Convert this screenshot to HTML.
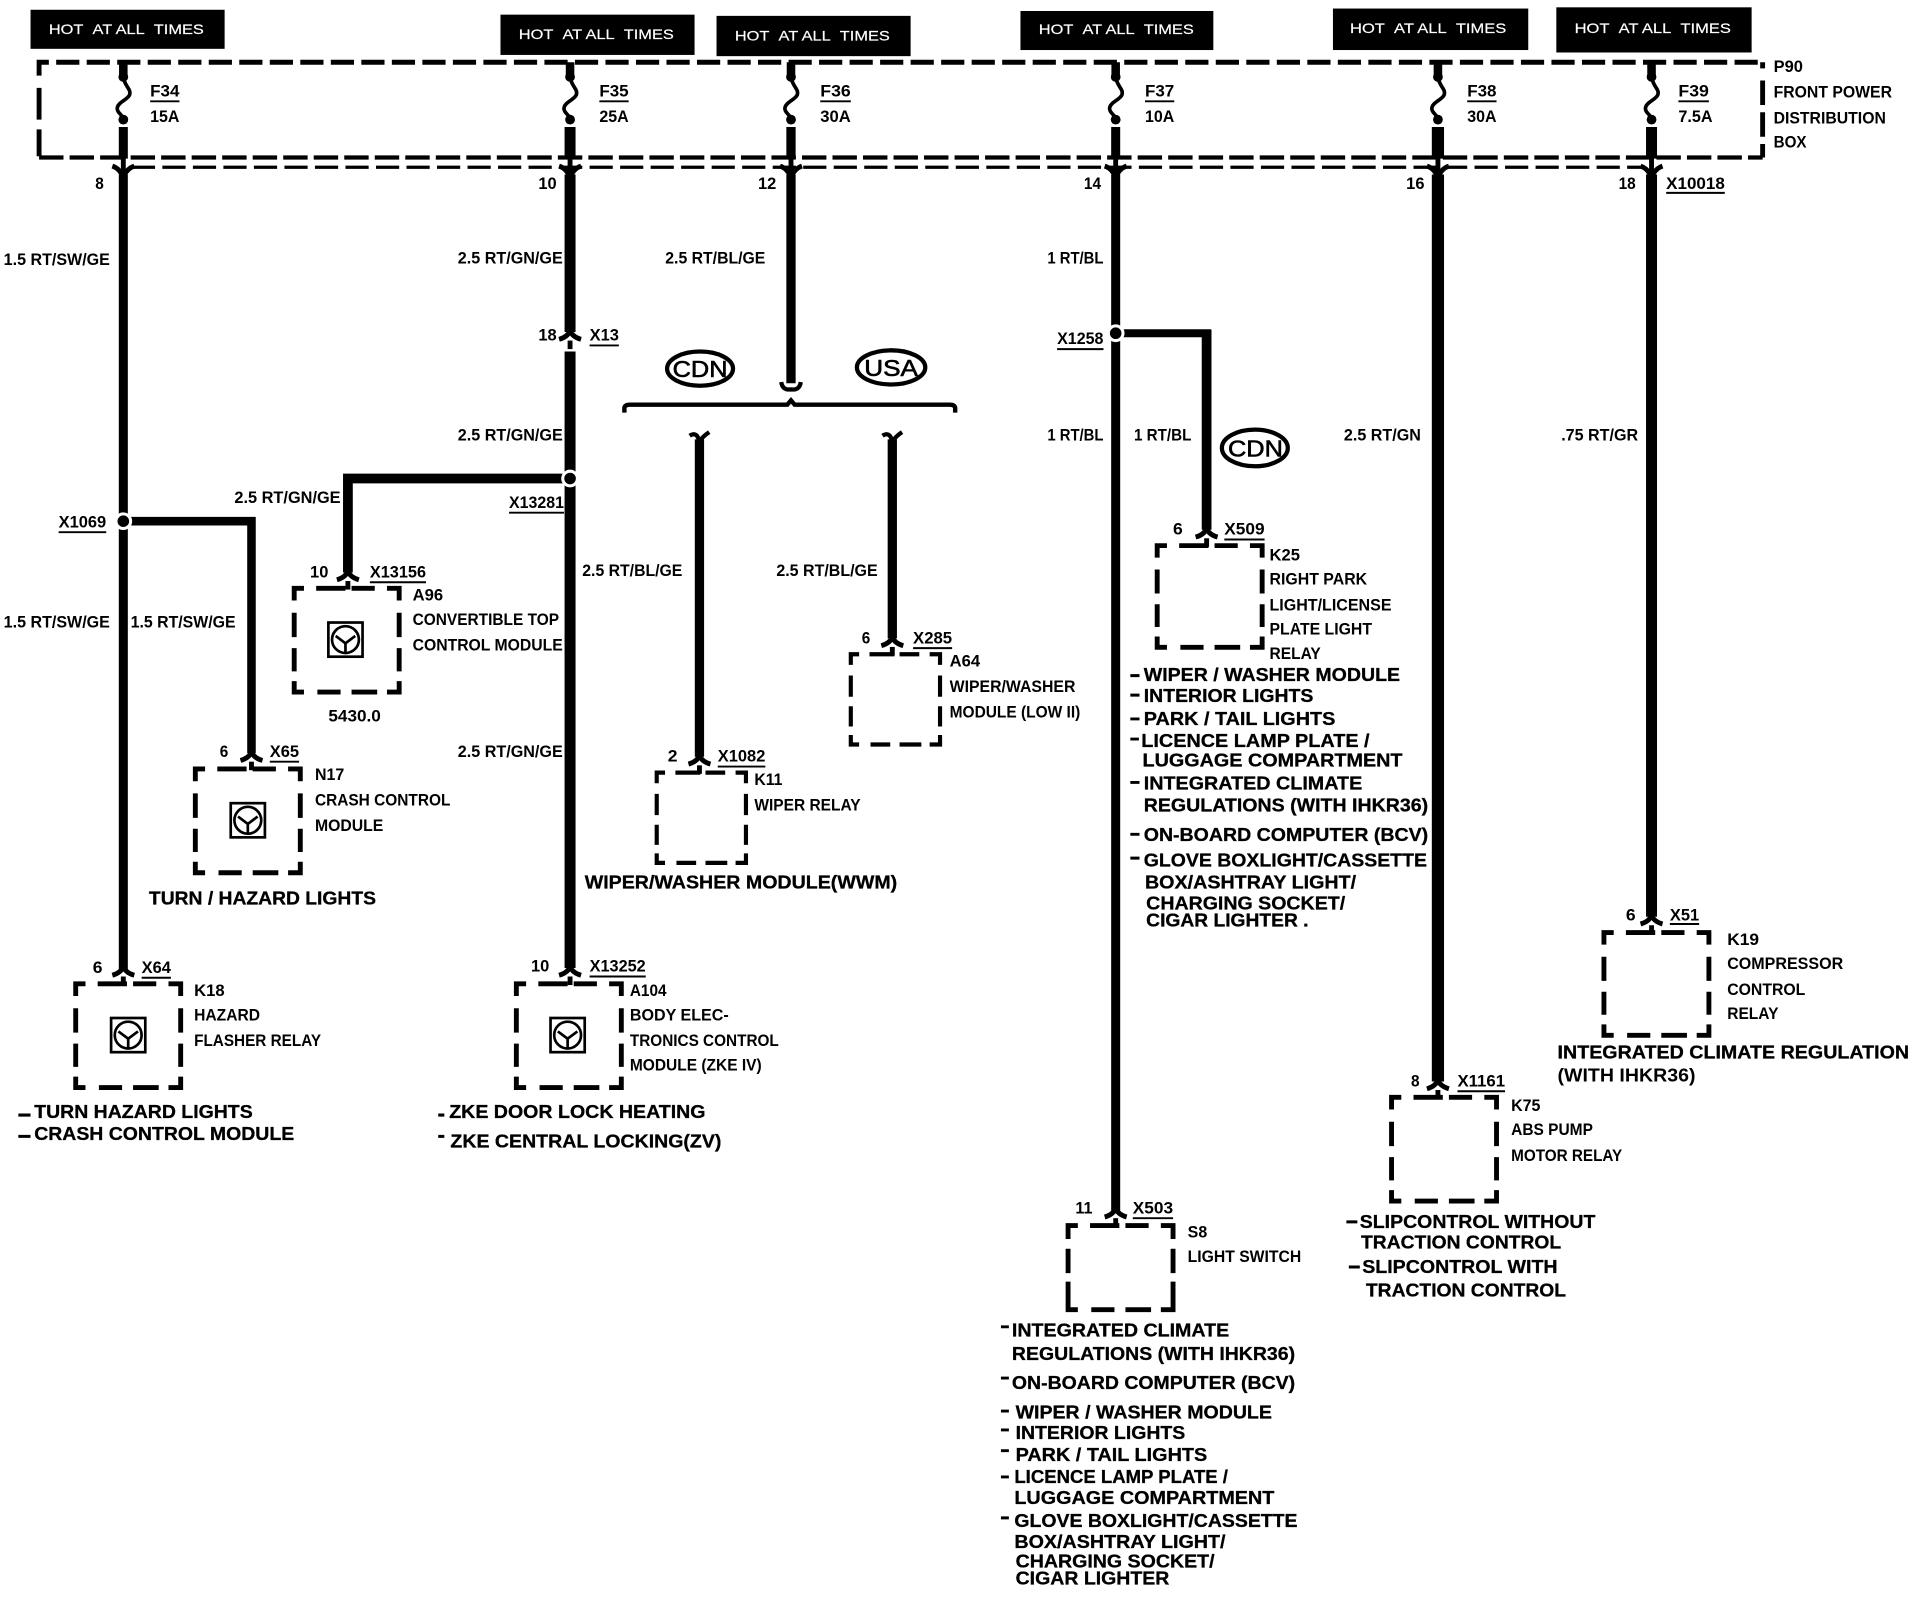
<!DOCTYPE html>
<html><head><meta charset="utf-8"><title>Power distribution wiring diagram</title>
<style>
html,body{margin:0;padding:0;background:#fff}
svg{display:block}
text{font-family:"Liberation Sans",sans-serif;font-weight:bold;fill:#000;font-size:13.5px}
.l{font-size:15.5px;stroke:#000;stroke-width:.25}
.w{fill:#fff;font-weight:normal;font-size:11.5px;stroke:#fff;stroke-width:.15}
.o{font-size:19px;font-weight:normal;stroke:#000;stroke-width:.5}
</style></head><body>
<svg xmlns="http://www.w3.org/2000/svg" width="1914" height="1600" viewBox="0 0 1568 1310.8">
<defs>
<path id="bx" d="M0,10V0H8M18,0H42M47,0H66M76,0H86V10M0,20V40M0,49V68M0,76V85H8M19,85H38M47,85H68M76,85H86V76M86,20V40M86,49V68" fill="none" stroke="#000" stroke-width="4"/>
<path id="bx2" d="M0,11V0H8M18,0H42M47,0H66M76,0H86V11M0,19V39M0,46V69H8M19,69H38M47,69H68M76,69H86V46M86,19V39" fill="none" stroke="#000" stroke-width="4"/>
<g id="arch"><path d="M-9,-7Q-2,-9 0,-14Q2,-9 9,-7" fill="none" stroke="#000" stroke-width="4"/><path d="M0,-6V1" stroke="#000" stroke-width="4"/></g>
<g id="fork"><path d="M0,-10V2" stroke="#000" stroke-width="4"/><path d="M-9,-3Q-3,-1 0,6Q3,-1 9,-3" fill="none" stroke="#000" stroke-width="4"/></g>
<g id="fuse"><path d="M0,0V12" stroke="#000" stroke-width="7"/><circle cx="0" cy="12" r="4"/><path d="M0,12C1,20 7,22 5,27C3,31 -5,33 -5,38C-5,42 0,43 0,47" fill="none" stroke="#000" stroke-width="3"/><circle cx="0" cy="47" r="4"/></g>
<g id="ic"><rect x="-14" y="-14" width="28" height="28" fill="none" stroke="#000" stroke-width="2.2"/><circle cx="0" cy="0" r="11" fill="none" stroke="#000" stroke-width="2.2"/><path d="M-8,-3L0,3L8,-3M0,3V11" fill="none" stroke="#000" stroke-width="2.2"/></g>
</defs>

<!-- HOT boxes -->
<g>
<rect x="25" y="8" width="159" height="32"/>
<rect x="410" y="12" width="159" height="33"/>
<rect x="587" y="13" width="159" height="33"/>
<rect x="836" y="9" width="158" height="32"/>
<rect x="1092" y="7" width="160" height="34"/>
<rect x="1275" y="6" width="160" height="37"/>
</g>
<text class="w" x="40" y="28" textLength="127" lengthAdjust="spacingAndGlyphs">HOT&#160;&#160;AT ALL&#160;&#160;TIMES</text>
<text class="w" x="425" y="32" textLength="127" lengthAdjust="spacingAndGlyphs">HOT&#160;&#160;AT ALL&#160;&#160;TIMES</text>
<text class="w" x="602" y="33" textLength="127" lengthAdjust="spacingAndGlyphs">HOT&#160;&#160;AT ALL&#160;&#160;TIMES</text>
<text class="w" x="851" y="28" textLength="127" lengthAdjust="spacingAndGlyphs">HOT&#160;&#160;AT ALL&#160;&#160;TIMES</text>
<text class="w" x="1106" y="27" textLength="128" lengthAdjust="spacingAndGlyphs">HOT&#160;&#160;AT ALL&#160;&#160;TIMES</text>
<text class="w" x="1290" y="27" textLength="128" lengthAdjust="spacingAndGlyphs">HOT&#160;&#160;AT ALL&#160;&#160;TIMES</text>

<!-- Distribution box -->
<path d="M32,62V51H40" fill="none" stroke="#000" stroke-width="4"/>
<path d="M46,51H1444" fill="none" stroke="#000" stroke-width="4" stroke-dasharray="19 6"/>
<path d="M32,72V98M32,106V128" fill="none" stroke="#000" stroke-width="4"/>
<path d="M1444,51V56M1444,66V86M1444,92V112M1444,118V129" fill="none" stroke="#000" stroke-width="4"/>
<path d="M32,129H1444" fill="none" stroke="#000" stroke-width="3.5" stroke-dasharray="20 5"/>
<path d="M108,137H1345" fill="none" stroke="#000" stroke-width="2.6" stroke-dasharray="19 6"/>

<!-- Fuses -->
<use href="#fuse" x="101" y="51"/><use href="#fuse" x="467" y="51"/><use href="#fuse" x="648" y="51"/>
<use href="#fuse" x="914" y="51"/><use href="#fuse" x="1178" y="51"/><use href="#fuse" x="1353" y="51"/>

<!-- Wires -->
<g fill="none" stroke="#000">
<path d="M101,104V130M101,143V795" stroke-width="7.4"/>
<path d="M467,104V130M467,143V272M467,288V793" stroke-width="9"/>
<path d="M648,104V130M648,143V314" stroke-width="7.6"/>
<path d="M914,104V130M914,143V992" stroke-width="7.4"/>
<path d="M1178,104V130M1178,143V886" stroke-width="10"/>
<path d="M1353,104V130M1353,143V751" stroke-width="9"/>
<path d="M101,427H206V617" stroke-width="7"/>
<path d="M467,392H285V469" stroke-width="8"/>
<path d="M914,273H992" stroke-width="6.5"/>
<path d="M988.5,270V434" stroke-width="8"/>
<path d="M573,360V620M731,360V523" stroke-width="7.6"/>
<path d="M511.5,338V334Q512,331.5 516,331.5H645L648,328L651,331.5H778Q782,331.5 782.5,334V338" stroke-width="3.6"/>
<path d="M640,313Q641,320 648,319Q655,320 656,313" stroke-width="3.5"/>
<path d="M565,357Q571,353 573,362Q575,358 581,354M723,357Q729,353 731,362Q733,358 739,354" stroke-width="3.5"/>
</g>
<circle cx="101" cy="427" r="6" stroke="#fff" stroke-width="2.5"/>
<circle cx="467" cy="392" r="6" stroke="#fff" stroke-width="2.5"/>
<circle cx="914" cy="273" r="6" stroke="#fff" stroke-width="2.5"/>

<use href="#fork" x="101" y="139"/><use href="#fork" x="467" y="139"/><use href="#fork" x="648" y="139"/>
<use href="#fork" x="914" y="139"/><use href="#fork" x="1178" y="139"/><use href="#fork" x="1353" y="139"/>

<use href="#arch" x="467" y="285"/>
<use href="#arch" x="101" y="806"/><use href="#arch" x="206" y="630"/><use href="#arch" x="285" y="482"/>
<use href="#arch" x="467" y="806"/><use href="#arch" x="573" y="633"/><use href="#arch" x="731" y="536"/>
<use href="#arch" x="988.5" y="447"/><use href="#arch" x="1353" y="764"/><use href="#arch" x="1178" y="899"/><use href="#arch" x="914" y="1004"/>

<!-- Component boxes -->
<use href="#bx" transform="translate(62,806)"/>
<use href="#bx" transform="translate(423,806)"/>
<use href="#bx" transform="translate(160,630)"/>
<use href="#bx" transform="translate(241,482)"/>
<use href="#bx" transform="translate(538,633) scale(.85,.87)"/>
<use href="#bx" transform="translate(697,536) scale(.85,.87)"/>
<use href="#bx" transform="translate(948,447) scale(1,.98)"/>
<use href="#bx" transform="translate(1314,764) scale(1,.99)"/>
<use href="#bx" transform="translate(1140,899)"/>
<use href="#bx2" transform="translate(875,1004)"/>

<use href="#ic" x="283" y="524"/><use href="#ic" x="203" y="672"/><use href="#ic" x="105" y="848"/><use href="#ic" x="465" y="848"/>

<!-- Ovals -->
<g fill="none" stroke="#000" stroke-width="3.5">
<ellipse cx="573.5" cy="302" rx="27" ry="14"/><ellipse cx="730" cy="301" rx="28" ry="14"/><ellipse cx="1028" cy="367" rx="27" ry="15"/>
</g>
<text class="o" x="551" y="309" textLength="45" lengthAdjust="spacingAndGlyphs">CDN</text>
<text class="o" x="708" y="308" textLength="44" lengthAdjust="spacingAndGlyphs">USA</text>
<text class="o" x="1006" y="374" textLength="45" lengthAdjust="spacingAndGlyphs">CDN</text>

<!-- Underlines -->
<path stroke="#000" stroke-width="1.6" fill="none" d="M123,83H147M491,83H515M672,83H697M938,83H962M1202,83H1226M1375,83H1400M1365,158H1413M483,283H507M866,286H904M48,436H87M417,420H462M303,477H349M221,624H245M588,628H627M748,531H780M1003,442H1036M1368,757H1392M1194,894H1233M928,998H961M116,801H140M483,800H529"/>

<!-- Fuse labels -->
<text x="123" y="79" textLength="24" lengthAdjust="spacingAndGlyphs">F34</text><text x="123" y="100" textLength="24" lengthAdjust="spacingAndGlyphs">15A</text>
<text x="491" y="79" textLength="24" lengthAdjust="spacingAndGlyphs">F35</text><text x="491" y="100" textLength="24" lengthAdjust="spacingAndGlyphs">25A</text>
<text x="672" y="79" textLength="25" lengthAdjust="spacingAndGlyphs">F36</text><text x="672" y="100" textLength="25" lengthAdjust="spacingAndGlyphs">30A</text>
<text x="938" y="79" textLength="24" lengthAdjust="spacingAndGlyphs">F37</text><text x="938" y="100" textLength="24" lengthAdjust="spacingAndGlyphs">10A</text>
<text x="1202" y="79" textLength="24" lengthAdjust="spacingAndGlyphs">F38</text><text x="1202" y="100" textLength="24" lengthAdjust="spacingAndGlyphs">30A</text>
<text x="1375" y="79" textLength="25" lengthAdjust="spacingAndGlyphs">F39</text><text x="1375" y="100" textLength="28" lengthAdjust="spacingAndGlyphs">7.5A</text>
<text x="1453" y="59" textLength="24" lengthAdjust="spacingAndGlyphs">P90</text>
<text x="1453" y="80" textLength="97" lengthAdjust="spacingAndGlyphs">FRONT POWER</text>
<text x="1453" y="101" textLength="92" lengthAdjust="spacingAndGlyphs">DISTRIBUTION</text>
<text x="1453" y="121" textLength="27" lengthAdjust="spacingAndGlyphs">BOX</text>

<!-- Pins -->
<text x="78" y="155" textLength="7" lengthAdjust="spacingAndGlyphs">8</text>
<text x="441" y="155" textLength="15" lengthAdjust="spacingAndGlyphs">10</text>
<text x="621" y="155" textLength="15" lengthAdjust="spacingAndGlyphs">12</text>
<text x="888" y="155" textLength="14" lengthAdjust="spacingAndGlyphs">14</text>
<text x="1152" y="155" textLength="15" lengthAdjust="spacingAndGlyphs">16</text>
<text x="1326" y="155" textLength="14" lengthAdjust="spacingAndGlyphs">18</text>
<text x="1365" y="155" textLength="48" lengthAdjust="spacingAndGlyphs">X10018</text>

<!-- Wire labels -->
<text x="3" y="217" textLength="87" lengthAdjust="spacingAndGlyphs">1.5 RT/SW/GE</text>
<text x="375" y="216" textLength="86" lengthAdjust="spacingAndGlyphs">2.5 RT/GN/GE</text>
<text x="545" y="216" textLength="82" lengthAdjust="spacingAndGlyphs">2.5 RT/BL/GE</text>
<text x="858" y="216" textLength="46" lengthAdjust="spacingAndGlyphs">1 RT/BL</text>
<text x="441" y="279" textLength="15" lengthAdjust="spacingAndGlyphs">18</text>
<text x="483" y="279" textLength="24" lengthAdjust="spacingAndGlyphs">X13</text>
<text x="866" y="282" textLength="38" lengthAdjust="spacingAndGlyphs">X1258</text>
<text x="375" y="361" textLength="86" lengthAdjust="spacingAndGlyphs">2.5 RT/GN/GE</text>
<text x="858" y="361" textLength="46" lengthAdjust="spacingAndGlyphs">1 RT/BL</text>
<text x="929" y="361" textLength="47" lengthAdjust="spacingAndGlyphs">1 RT/BL</text>
<text x="1101" y="361" textLength="63" lengthAdjust="spacingAndGlyphs">2.5 RT/GN</text>
<text x="1279" y="361" textLength="63" lengthAdjust="spacingAndGlyphs">.75 RT/GR</text>
<text x="192" y="412" textLength="87" lengthAdjust="spacingAndGlyphs">2.5 RT/GN/GE</text>
<text x="417" y="416" textLength="45" lengthAdjust="spacingAndGlyphs">X13281</text>
<text x="48" y="432" textLength="39" lengthAdjust="spacingAndGlyphs">X1069</text>
<text x="3" y="514" textLength="87" lengthAdjust="spacingAndGlyphs">1.5 RT/SW/GE</text>
<text x="107" y="514" textLength="86" lengthAdjust="spacingAndGlyphs">1.5 RT/SW/GE</text>
<text x="477" y="472" textLength="82" lengthAdjust="spacingAndGlyphs">2.5 RT/BL/GE</text>
<text x="636" y="472" textLength="83" lengthAdjust="spacingAndGlyphs">2.5 RT/BL/GE</text>
<text x="375" y="620" textLength="86" lengthAdjust="spacingAndGlyphs">2.5 RT/GN/GE</text>

<!-- A96 -->
<text x="254" y="473" textLength="15" lengthAdjust="spacingAndGlyphs">10</text>
<text x="303" y="473" textLength="46" lengthAdjust="spacingAndGlyphs">X13156</text>
<text x="338" y="492" textLength="25" lengthAdjust="spacingAndGlyphs">A96</text>
<text x="338" y="512" textLength="120" lengthAdjust="spacingAndGlyphs">CONVERTIBLE TOP</text>
<text x="338" y="533" textLength="123" lengthAdjust="spacingAndGlyphs">CONTROL MODULE</text>
<text x="269" y="591" textLength="43" lengthAdjust="spacingAndGlyphs">5430.0</text>

<!-- N17 -->
<text x="180" y="620" textLength="7" lengthAdjust="spacingAndGlyphs">6</text>
<text x="221" y="620" textLength="24" lengthAdjust="spacingAndGlyphs">X65</text>
<text x="258" y="639" textLength="24" lengthAdjust="spacingAndGlyphs">N17</text>
<text x="258" y="660" textLength="111" lengthAdjust="spacingAndGlyphs">CRASH CONTROL</text>
<text x="258" y="681" textLength="56" lengthAdjust="spacingAndGlyphs">MODULE</text>
<text class="l" x="122" y="741" textLength="186" lengthAdjust="spacingAndGlyphs">TURN / HAZARD LIGHTS</text>

<!-- K11 -->
<text x="547" y="624" textLength="8" lengthAdjust="spacingAndGlyphs">2</text>
<text x="588" y="624" textLength="39" lengthAdjust="spacingAndGlyphs">X1082</text>
<text x="618" y="643" textLength="23" lengthAdjust="spacingAndGlyphs">K11</text>
<text x="618" y="664" textLength="87" lengthAdjust="spacingAndGlyphs">WIPER RELAY</text>
<text class="l" x="479" y="728" textLength="256" lengthAdjust="spacingAndGlyphs">WIPER/WASHER MODULE(WWM)</text>

<!-- A64 -->
<text x="706" y="527" textLength="7" lengthAdjust="spacingAndGlyphs">6</text>
<text x="748" y="527" textLength="32" lengthAdjust="spacingAndGlyphs">X285</text>
<text x="778" y="546" textLength="25" lengthAdjust="spacingAndGlyphs">A64</text>
<text x="778" y="567" textLength="103" lengthAdjust="spacingAndGlyphs">WIPER/WASHER</text>
<text x="778" y="588" textLength="107" lengthAdjust="spacingAndGlyphs">MODULE (LOW II)</text>

<!-- K25 -->
<text x="961" y="438" textLength="8" lengthAdjust="spacingAndGlyphs">6</text>
<text x="1003" y="438" textLength="33" lengthAdjust="spacingAndGlyphs">X509</text>
<text x="1040" y="459" textLength="25" lengthAdjust="spacingAndGlyphs">K25</text>
<text x="1040" y="479" textLength="80" lengthAdjust="spacingAndGlyphs">RIGHT PARK</text>
<text x="1040" y="500" textLength="100" lengthAdjust="spacingAndGlyphs">LIGHT/LICENSE</text>
<text x="1040" y="520" textLength="84" lengthAdjust="spacingAndGlyphs">PLATE LIGHT</text>
<text x="1040" y="540" textLength="42" lengthAdjust="spacingAndGlyphs">RELAY</text>

<!-- K25 list -->
<path stroke="#000" stroke-width="2.4" fill="none" d="M926,553.5H933.5M926,569.5H933.5M926,589H933.5M926,605.5H933M926,641H933.5M926,683.5H933.5M926,703H933.5"/>
<text class="l" x="937" y="558" textLength="210" lengthAdjust="spacingAndGlyphs">WIPER / WASHER MODULE</text>
<text class="l" x="937" y="575" textLength="139" lengthAdjust="spacingAndGlyphs">INTERIOR LIGHTS</text>
<text class="l" x="937" y="594" textLength="157" lengthAdjust="spacingAndGlyphs">PARK / TAIL LIGHTS</text>
<text class="l" x="935" y="612" textLength="187" lengthAdjust="spacingAndGlyphs">LICENCE LAMP PLATE /</text>
<text class="l" x="936" y="628" textLength="213" lengthAdjust="spacingAndGlyphs">LUGGAGE COMPARTMENT</text>
<text class="l" x="937" y="647" textLength="179" lengthAdjust="spacingAndGlyphs">INTEGRATED CLIMATE</text>
<text class="l" x="937" y="665" textLength="233" lengthAdjust="spacingAndGlyphs">REGULATIONS (WITH IHKR36)</text>
<text class="l" x="937" y="689" textLength="233" lengthAdjust="spacingAndGlyphs">ON-BOARD COMPUTER (BCV)</text>
<text class="l" x="937" y="710" textLength="232" lengthAdjust="spacingAndGlyphs">GLOVE BOXLIGHT/CASSETTE</text>
<text class="l" x="938" y="728" textLength="173" lengthAdjust="spacingAndGlyphs">BOX/ASHTRAY LIGHT/</text>
<text class="l" x="939" y="745" textLength="163" lengthAdjust="spacingAndGlyphs">CHARGING SOCKET/</text>
<text class="l" x="939" y="759" textLength="133" lengthAdjust="spacingAndGlyphs">CIGAR LIGHTER .</text>

<!-- K19 -->
<text x="1332" y="754" textLength="8" lengthAdjust="spacingAndGlyphs">6</text>
<text x="1368" y="754" textLength="24" lengthAdjust="spacingAndGlyphs">X51</text>
<text x="1415" y="774" textLength="26" lengthAdjust="spacingAndGlyphs">K19</text>
<text x="1415" y="794" textLength="95" lengthAdjust="spacingAndGlyphs">COMPRESSOR</text>
<text x="1415" y="815" textLength="64" lengthAdjust="spacingAndGlyphs">CONTROL</text>
<text x="1415" y="835" textLength="42" lengthAdjust="spacingAndGlyphs">RELAY</text>
<text class="l" x="1276" y="867" textLength="288" lengthAdjust="spacingAndGlyphs">INTEGRATED CLIMATE REGULATION</text>
<text x="1276" y="886" textLength="113" lengthAdjust="spacingAndGlyphs" style="font-size:15px">(WITH IHKR36)</text>

<!-- K75 -->
<text x="1156" y="890" textLength="7" lengthAdjust="spacingAndGlyphs">8</text>
<text x="1194" y="890" textLength="39" lengthAdjust="spacingAndGlyphs">X1161</text>
<text x="1238" y="910" textLength="24" lengthAdjust="spacingAndGlyphs">K75</text>
<text x="1238" y="930" textLength="67" lengthAdjust="spacingAndGlyphs">ABS PUMP</text>
<text x="1238" y="951" textLength="91" lengthAdjust="spacingAndGlyphs">MOTOR RELAY</text>
<path stroke="#000" stroke-width="2.4" fill="none" d="M1103,1001H1112M1105,1038H1114"/>
<text class="l" x="1114" y="1006" textLength="193" lengthAdjust="spacingAndGlyphs">SLIPCONTROL WITHOUT</text>
<text class="l" x="1115" y="1023" textLength="164" lengthAdjust="spacingAndGlyphs">TRACTION CONTROL</text>
<text class="l" x="1116" y="1043" textLength="160" lengthAdjust="spacingAndGlyphs">SLIPCONTROL WITH</text>
<text class="l" x="1119" y="1062" textLength="164" lengthAdjust="spacingAndGlyphs">TRACTION CONTROL</text>

<!-- S8 -->
<text x="881" y="994" textLength="14" lengthAdjust="spacingAndGlyphs">11</text>
<text x="928" y="994" textLength="33" lengthAdjust="spacingAndGlyphs">X503</text>
<text x="973" y="1014" textLength="16" lengthAdjust="spacingAndGlyphs">S8</text>
<text x="973" y="1034" textLength="93" lengthAdjust="spacingAndGlyphs">LIGHT SWITCH</text>
<path stroke="#000" stroke-width="2.4" fill="none" d="M820,1087H826.5M820,1129H826.5M820,1156H826.5M820,1171.5H826.5M820,1188.5H826.5M820,1210H826.5M820,1243.5H826.5"/>
<text class="l" x="829" y="1095" textLength="178" lengthAdjust="spacingAndGlyphs">INTEGRATED CLIMATE</text>
<text class="l" x="829" y="1114" textLength="232" lengthAdjust="spacingAndGlyphs">REGULATIONS (WITH IHKR36)</text>
<text class="l" x="829" y="1138" textLength="232" lengthAdjust="spacingAndGlyphs">ON-BOARD COMPUTER (BCV)</text>
<text class="l" x="832" y="1162" textLength="210" lengthAdjust="spacingAndGlyphs">WIPER / WASHER MODULE</text>
<text class="l" x="832" y="1179" textLength="139" lengthAdjust="spacingAndGlyphs">INTERIOR LIGHTS</text>
<text class="l" x="832" y="1197" textLength="157" lengthAdjust="spacingAndGlyphs">PARK / TAIL LIGHTS</text>
<text class="l" x="831" y="1215" textLength="175" lengthAdjust="spacingAndGlyphs">LICENCE LAMP PLATE /</text>
<text class="l" x="831" y="1232" textLength="213" lengthAdjust="spacingAndGlyphs">LUGGAGE COMPARTMENT</text>
<text class="l" x="831" y="1251" textLength="232" lengthAdjust="spacingAndGlyphs">GLOVE BOXLIGHT/CASSETTE</text>
<text class="l" x="831" y="1268" textLength="173" lengthAdjust="spacingAndGlyphs">BOX/ASHTRAY LIGHT/</text>
<text class="l" x="832" y="1284" textLength="163" lengthAdjust="spacingAndGlyphs">CHARGING SOCKET/</text>
<text class="l" x="832" y="1298" textLength="126" lengthAdjust="spacingAndGlyphs">CIGAR LIGHTER</text>

<!-- K18 -->
<text x="76" y="797" textLength="8" lengthAdjust="spacingAndGlyphs">6</text>
<text x="116" y="797" textLength="24" lengthAdjust="spacingAndGlyphs">X64</text>
<text x="159" y="816" textLength="25" lengthAdjust="spacingAndGlyphs">K18</text>
<text x="159" y="836" textLength="54" lengthAdjust="spacingAndGlyphs">HAZARD</text>
<text x="159" y="857" textLength="104" lengthAdjust="spacingAndGlyphs">FLASHER RELAY</text>

<!-- A104 -->
<text x="435" y="796" textLength="15" lengthAdjust="spacingAndGlyphs">10</text>
<text x="483" y="796" textLength="46" lengthAdjust="spacingAndGlyphs">X13252</text>
<text x="516" y="816" textLength="30" lengthAdjust="spacingAndGlyphs">A104</text>
<text x="516" y="836" textLength="81" lengthAdjust="spacingAndGlyphs">BODY ELEC-</text>
<text x="516" y="857" textLength="122" lengthAdjust="spacingAndGlyphs">TRONICS CONTROL</text>
<text x="516" y="877" textLength="108" lengthAdjust="spacingAndGlyphs">MODULE (ZKE IV)</text>

<path stroke="#000" stroke-width="2.5" fill="none" d="M15,913.5H25M15,931H25M359,913.5H364M359,931H364"/>
<text class="l" x="28" y="916" textLength="179" lengthAdjust="spacingAndGlyphs">TURN HAZARD LIGHTS</text>
<text class="l" x="28" y="934" textLength="213" lengthAdjust="spacingAndGlyphs">CRASH CONTROL MODULE</text>
<text class="l" x="368" y="916" textLength="210" lengthAdjust="spacingAndGlyphs">ZKE DOOR LOCK HEATING</text>
<text class="l" x="369" y="940" textLength="222" lengthAdjust="spacingAndGlyphs">ZKE CENTRAL LOCKING(ZV)</text>
</svg>
</body></html>
